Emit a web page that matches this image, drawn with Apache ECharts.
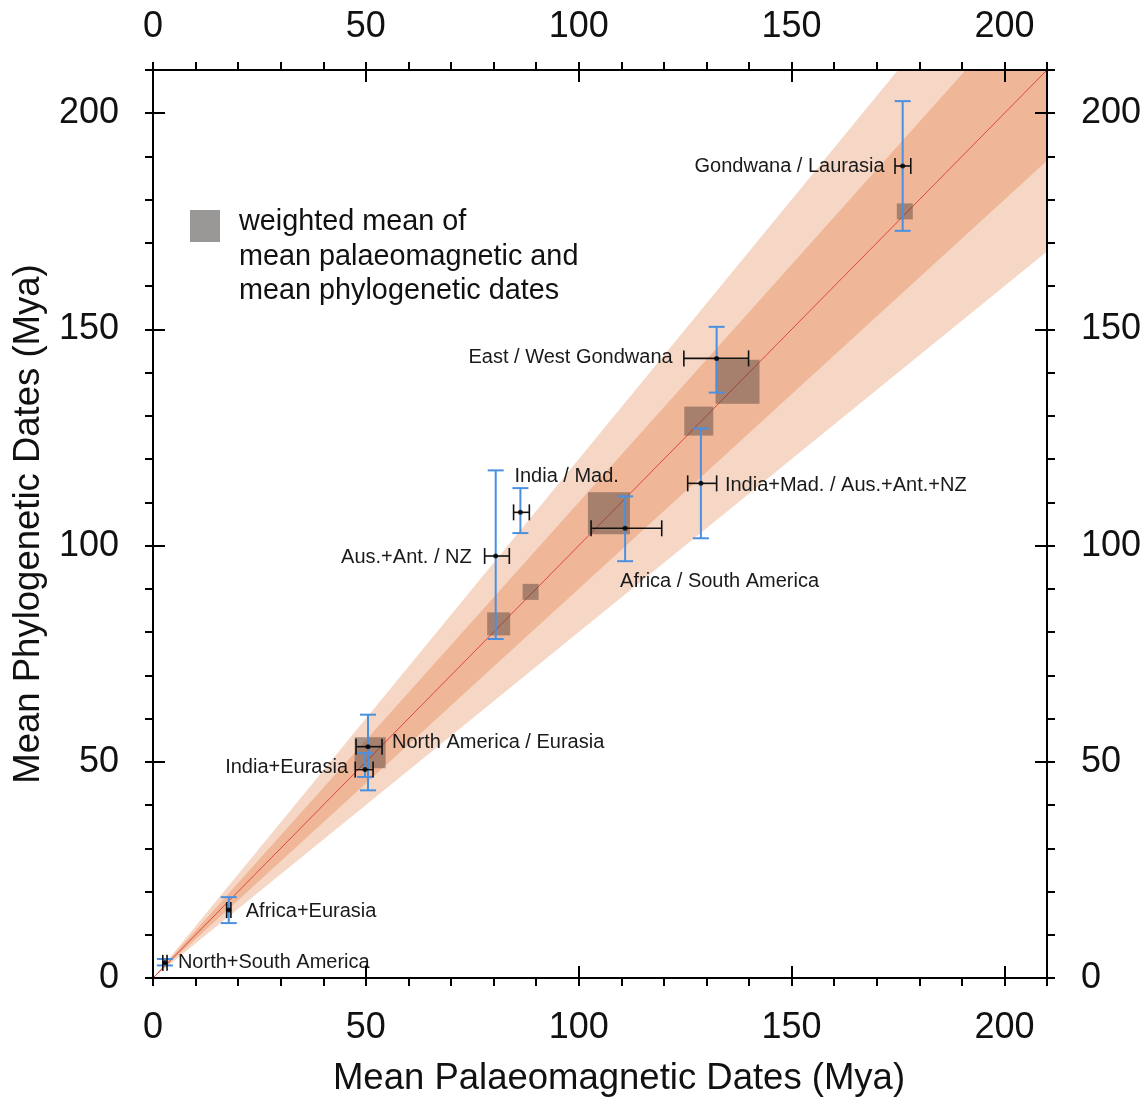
<!DOCTYPE html>
<html>
<head>
<meta charset="utf-8">
<script src="https://cdn.jsdelivr.net/npm/echarts@6/dist/echarts.min.js"></script>
<style>
html,body{margin:0;padding:0;background:#fff;}
#chart{width:1147px;height:1102px;}
</style>
</head>
<body>
<div id="chart"></div>
<script>
// ---------------- DATA ----------------
const axisMax = 210;
const tickLabels = [0, 50, 100, 150, 200];
const names = ['North+South America', 'Africa+Eurasia', 'North America / Eurasia', 'India+Eurasia',
  'Aus.+Ant. / NZ', 'India / Mad.', 'Africa / South America', 'India+Mad. / Aus.+Ant.+NZ',
  'East / West Gondwana', 'Gondwana / Laurasia'];
const palaeoMean = [2.8, 17.8, 50.5, 49.8, 80.5, 86.3, 110.9, 128.7, 132.4, 176.1];
const palaeoLow  = [2.3, 17.3, 47.7, 47.5, 77.9, 84.7, 102.9, 125.6, 124.7, 174.3];
const palaeoHigh = [3.3, 18.3, 53.8, 51.7, 83.7, 88.4, 119.5, 132.4, 139.9, 178.0];
const phyloMean  = [3.5, 15.7, 53.5, 48.2, 97.6, 107.7, 104.0, 114.4, 143.3, 187.8];
const phyloLow   = [2.9, 12.7, 43.4, 46.5, 78.4, 102.9, 96.4, 101.7, 135.4, 172.8];
const phyloHigh  = [4.4, 18.7, 60.9, 52.0, 117.4, 113.3, 111.4, 127.1, 150.6, 202.8];
const weightedX  = [51.0, 81.2, 88.7, 107.1, 128.2, 137.3, 176.6];
const weightedY  = [52.1, 81.9, 89.3, 107.5, 128.8, 137.9, 177.3];
const bandInner = 0.1;
const bandOuter = 0.2;

// ---------------- STYLE / LAYOUT ----------------
const squarePx = [31, 23, 16, 42, 29, 44, 16];
// [align, dx, dy]
const labelLayout = [
  ['left', 13, 0], ['left', 17, 1], ['left', 24, -4], ['right', -17, -2],
  ['right', -24, 1], ['left', -6, -36], ['left', -5, 53], ['left', 24, 2],
  ['right', -44, -1], ['right', -18, 0]
];
const FONT = '"Liberation Sans", Arial, Helvetica, sans-serif';
const blue = '#4b90e0';

const chart = echarts.init(document.getElementById('chart'));

function bandPolygon(r) {
  return [[0, 0], [axisMax, (1 - r) * axisMax], [axisMax, axisMax], [axisMax / (1 + r), axisMax]];
}

const gridRect = {left: 153, right: 100, top: 70, bottom: 122};

function minorAxis(pos, margin) {
  return {
    type: 'value', position: pos, min: 0, max: axisMax, interval: 10, gridIndex: 0, z: 10,
    axisLine: {show: true, onZero: false, lineStyle: {color: '#000', width: 2}},
    axisTick: {show: true, inside: false, length: 8, lineStyle: {color: '#000', width: 2}},
    splitLine: {show: false},
    axisLabel: {
      show: true, fontSize: 36, fontFamily: FONT, color: '#111', margin: margin,
      formatter: v => (tickLabels.indexOf(v) >= 0 ? String(v) : '')
    }
  };
}
function majorAxis(pos) {
  return {
    type: 'value', position: pos, min: 0, max: axisMax, interval: 50, gridIndex: 0, z: 10,
    axisLine: {show: false, onZero: false},
    axisTick: {show: true, inside: true, length: 12, lineStyle: {color: '#000', width: 2}},
    splitLine: {show: false},
    axisLabel: {show: false}
  };
}

const xBottom = minorAxis('bottom', 32);
xBottom.name = 'Mean Palaeomagnetic Dates (Mya)';
xBottom.nameLocation = 'middle';
xBottom.nameGap = 82;
xBottom.nameTextStyle = {fontSize: 36.5, fontFamily: FONT, color: '#111', padding: [0, 0, 0, 38]};
const yLeft = minorAxis('left', 34);
yLeft.name = 'Mean Phylogenetic Dates (Mya)';
yLeft.nameLocation = 'middle';
yLeft.nameGap = 106;
yLeft.nameTextStyle = {fontSize: 36.5, fontFamily: FONT, color: '#111'};

function rangeBar(params, api, vertical) {
  const c = api.value(0), lo = api.value(1), hi = api.value(2);
  const p1 = vertical ? api.coord([c, lo]) : api.coord([lo, c]);
  const p2 = vertical ? api.coord([c, hi]) : api.coord([hi, c]);
  const color = vertical ? blue : '#111';
  const w = vertical ? 2 : 1.6;
  const cap = 8;
  const style = {stroke: color, lineWidth: w};
  const children = [{type: 'line', shape: {x1: p1[0], y1: p1[1], x2: p2[0], y2: p2[1]}, style}];
  [p1, p2].forEach(p => {
    children.push({type: 'line', shape: vertical ?
      {x1: p[0] - cap, y1: p[1], x2: p[0] + cap, y2: p[1]} :
      {x1: p[0], y1: p[1] - cap, x2: p[0], y2: p[1] + cap}, style});
  });
  return {type: 'group', children};
}

const option = {
  backgroundColor: '#fff',
  animation: false,
  grid: [Object.assign({}, gridRect)],
  xAxis: [xBottom, minorAxis('top', 25), majorAxis('bottom'), majorAxis('top')],
  yAxis: [yLeft, minorAxis('right', 34), majorAxis('left'), majorAxis('right')],
  graphic: [
    {type: 'rect', left: 190, top: 210, shape: {width: 30, height: 32}, style: {fill: '#9a9896'}, z: 100},
    {type: 'text', left: 239, top: 205, z: 100, style: {
      text: 'weighted mean of\nmean palaeomagnetic and\nmean phylogenetic dates',
      font: '28.8px ' + FONT, fill: '#111', lineHeight: 34.5}}
  ],
  series: [
    {
      type: 'custom', xAxisIndex: 0, yAxisIndex: 0, z: 1, silent: true,
      data: [[bandOuter, 0], [bandInner, 1]],
      renderItem: (params, api) => {
        const r = api.value(0);
        const pts = bandPolygon(r).map(p => api.coord(p));
        return {type: 'polygon', shape: {points: pts},
          style: {fill: api.value(1) === 0 ? '#f6d7c5' : '#efb797'}};
      }
    },
    {
      type: 'line', xAxisIndex: 0, yAxisIndex: 0, z: 2, silent: true, symbol: 'none',
      data: [[0, 0], [axisMax, axisMax]],
      lineStyle: {color: '#e2453c', width: 1}
    },
    {
      type: 'scatter', xAxisIndex: 0, yAxisIndex: 0, z: 3, silent: true,
      symbol: 'rect',
      data: weightedX.map((x, i) => ({value: [x, weightedY[i]], symbolSize: squarePx[i]})),
      itemStyle: {color: 'rgba(85,70,62,0.6)'}
    },
    {
      type: 'custom', xAxisIndex: 0, yAxisIndex: 0, z: 4, silent: true,
      data: palaeoMean.map((x, i) => [x, phyloLow[i], phyloHigh[i]]),
      renderItem: (p, api) => rangeBar(p, api, true)
    },
    {
      type: 'custom', xAxisIndex: 0, yAxisIndex: 0, z: 5, silent: true,
      data: phyloMean.map((y, i) => [y, palaeoLow[i], palaeoHigh[i]]),
      renderItem: (p, api) => rangeBar(p, api, false)
    },
    {
      type: 'scatter', xAxisIndex: 0, yAxisIndex: 0, z: 6, silent: true,
      symbolSize: 5,
      data: palaeoMean.map((x, i) => [x, phyloMean[i]]),
      itemStyle: {color: '#000'}
    },
    {
      type: 'custom', xAxisIndex: 0, yAxisIndex: 0, z: 7, silent: true,
      data: palaeoMean.map((x, i) => [x, phyloMean[i], i]),
      renderItem: (params, api) => {
        const i = api.value(2);
        const p = api.coord([api.value(0), api.value(1)]);
        const L = labelLayout[i];
        return {type: 'text', x: p[0] + L[1], y: p[1] + L[2],
          style: {text: names[i], font: '20px ' + FONT, fill: '#1a1a1a',
            align: L[0], verticalAlign: 'middle'}};
      }
    },
    {
      type: 'scatter', xAxisIndex: 2, yAxisIndex: 2, silent: true, symbolSize: 0,
      data: [], itemStyle: {opacity: 0}
    },
    {
      type: 'scatter', xAxisIndex: 3, yAxisIndex: 3, silent: true, symbolSize: 0,
      data: [], itemStyle: {opacity: 0}
    }
  ]
};
chart.setOption(option);
</script>
</body>
</html>
